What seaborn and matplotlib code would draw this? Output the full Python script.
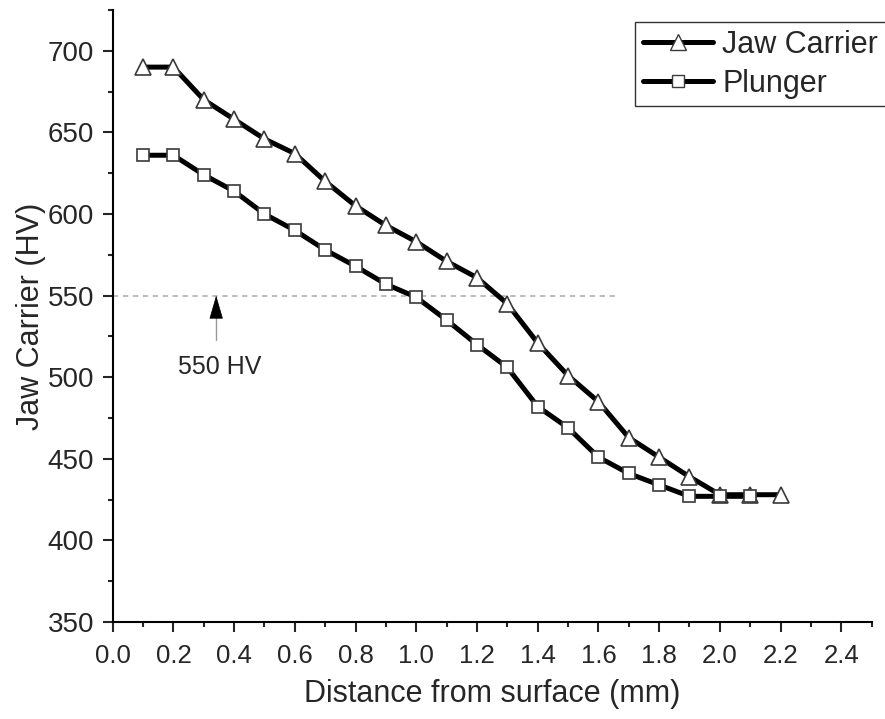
import matplotlib
matplotlib.use("Agg")
import matplotlib.pyplot as plt
from matplotlib.lines import Line2D
import seaborn as sns
import pandas as pd

depth_jaw = [0.1, 0.2, 0.3, 0.4, 0.5, 0.6, 0.7, 0.8, 0.9, 1.0, 1.1, 1.2, 1.3, 1.4, 1.5, 1.6, 1.7, 1.8, 1.9, 2.0, 2.1, 2.2]
hv_jaw = [690, 690, 670, 658, 646, 637, 620, 605, 593, 583, 571, 561, 545, 521, 501, 485, 463, 451, 439, 428, 428, 428]
depth_plunger = [0.1, 0.2, 0.3, 0.4, 0.5, 0.6, 0.7, 0.8, 0.9, 1.0, 1.1, 1.2, 1.3, 1.4, 1.5, 1.6, 1.7, 1.8, 1.9, 2.0, 2.1]
hv_plunger = [636, 636, 624, 614, 600, 590, 578, 568, 557, 549, 535, 520, 506, 482, 469, 451, 441, 434, 427, 427, 427]
series_names = ["Jaw Carrier", "Plunger"]
x_ticks = [0.0, 0.2, 0.4, 0.6, 0.8, 1.0, 1.2, 1.4, 1.6, 1.8, 2.0, 2.2, 2.4]
y_ticks = [350, 400, 450, 500, 550, 600, 650, 700]
threshold = 550
threshold_label = "550 HV"

df = pd.concat([
    pd.DataFrame({"x": depth_jaw, "y": hv_jaw, "s": series_names[0]}),
    pd.DataFrame({"x": depth_plunger, "y": hv_plunger, "s": series_names[1]}),
])

sns.set_style("ticks")
plt.rcParams['font.family'] = ['Liberation Sans', 'DejaVu Sans']

fig = plt.figure(figsize=(8.85, 7.19), dpi=100)
ax = fig.add_axes([0.1273, 0.1349, 0.8576, 0.8512])

LW = 3.6
EDGE = "#3a3a3a"
sns.lineplot(data=df[df.s == series_names[0]], x="x", y="y", color="black",
             marker="^", dashes=False, linewidth=LW, markersize=11,
             markerfacecolor="white", markeredgecolor=EDGE, markeredgewidth=1.2,
             ax=ax, legend=False)
sns.lineplot(data=df[df.s == series_names[1]], x="x", y="y", color="black",
             marker="s", dashes=False, linewidth=LW, markersize=9,
             markerfacecolor="white", markeredgecolor=EDGE, markeredgewidth=1.2,
             ax=ax, legend=False)

# threshold line and arrow (gray shaft, black head)
ax.plot([0.0, 1.655], [threshold, threshold], ls=(0, (3.5, 3)), color="#aaaaaa", lw=1.1, zorder=0)
ax.plot([0.341, 0.341], [522.5, threshold - 4], color="#999999", lw=1.0, zorder=0)
ax.annotate("", xy=(0.341, threshold), xytext=(0.341, threshold - 11),
            arrowprops=dict(arrowstyle="-|>,head_length=1.1,head_width=0.32",
                            color="black", lw=0.5, mutation_scale=14,
                            shrinkA=0, shrinkB=0),
            zorder=1)
ax.text(0.215, 506, threshold_label, fontsize=18, va="center", ha="left")

ax.set_xlim(0, 2.5)
ax.set_ylim(350, 725)
ax.set_xticks(x_ticks)
ax.set_xticklabels([f"{v:.1f}" for v in x_ticks], fontsize=18.5)
ax.set_yticks(y_ticks)
ax.set_yticklabels([str(v) for v in y_ticks], fontsize=20)
ax.set_xticks([0.1 + 0.2 * i for i in range(13)], minor=True)
ax.set_yticks([375 + 50 * i for i in range(8)], minor=True)
ax.tick_params(axis="both", which="major", length=7.5, width=1.5, direction="out")
ax.tick_params(axis="both", which="minor", length=3.8, width=1.5, direction="out")
ax.tick_params(axis="x", which="major", pad=8)
ax.tick_params(axis="y", which="major", pad=6)

for side in ["top", "right"]:
    ax.spines[side].set_visible(False)
for side in ["left", "bottom"]:
    ax.spines[side].set_linewidth(1.5)
    ax.spines[side].set_color("black")

ax.set_xlabel("Distance from surface (mm)", fontsize=22, labelpad=8)
ax.set_ylabel("Jaw Carrier (HV)", fontsize=22)
ax.yaxis.set_label_coords(-0.088, 0.5)

handles = [
    Line2D([], [], color="black", lw=LW, marker="^", markersize=11, markerfacecolor="white",
           markeredgecolor=EDGE, markeredgewidth=1.0),
    Line2D([], [], color="black", lw=LW, marker="s", markersize=9, markerfacecolor="white",
           markeredgecolor=EDGE, markeredgewidth=1.0),
]
leg = fig.legend(handles, series_names, loc="upper left", bbox_to_anchor=(635 / 885, 1 - 22 / 719),
                 fontsize=22, frameon=True, fancybox=False, edgecolor="black",
                 handlelength=2.3, handletextpad=0.3, borderpad=0.25, borderaxespad=0,
                 labelspacing=0.3)
leg.get_frame().set_linewidth(1.0)

fig.savefig("out.png", dpi=100)
